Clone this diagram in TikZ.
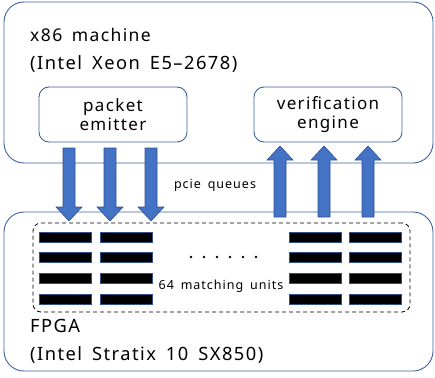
\documentclass[tikz,border=0pt]{standalone}
\usepackage{fontspec}
\setmainfont{Noto Sans}[LetterSpace=8, WordSpace=1.6]
\usetikzlibrary{positioning}

\definecolor{boxblue}{HTML}{3A62A0}
\definecolor{arrowblue}{HTML}{4472C4}
\definecolor{arrowedge}{HTML}{2F528F}

\tikzset{
  machinebox/.style={draw=boxblue, line width=0.9pt, rounded corners=20pt},
  modulebox/.style={draw=boxblue, line width=0.9pt, rounded corners=10pt,
    minimum width=148pt, minimum height=55pt, align=center,
    font=\fontsize{17}{19}\selectfont},
  labeltext/.style={inner sep=0pt, anchor=base west, font=\fontsize{17.5}{20}\selectfont},
  labelbig/.style={inner sep=0pt, anchor=base west, font=\fontsize{18.3}{22}\selectfont},
  smalltext/.style={inner sep=0pt, font=\fontsize{12.5}{15}\selectfont},
  pciearrow/.style={fill=arrowblue, draw=arrowedge, line width=0.6pt},
  unitbar/.style={fill=black, draw=arrowedge, line width=0.8pt},
  unitframe/.style={draw, dashed, line width=0.8pt, rounded corners=8pt, dash pattern=on 4pt off 3pt}
}

\begin{document}
\begin{tikzpicture}[x=1pt, y=-1pt]
\useasboundingbox (0,0) rectangle (435,377);

% host side
\node[machinebox, minimum width=429pt, minimum height=161pt] (host) at (218.5,82.5) {};
\node[labeltext] (hostname) at (30,42) {x86 machine};
\node[labelbig] (hostcpu) at (30,70) {(Intel Xeon E5–2678)};
\node[modulebox] (emitter) at (113,114.5) {packet\\emitter};
\node[modulebox] (verifier) at (328,114.5) {verification\\engine};

% fpga side
\node[machinebox, minimum width=429pt, minimum height=159pt] (fpga) at (218.5,291.5) {};
\node[unitframe, minimum width=377pt, minimum height=89pt] (units) at (221.5,267.5) {};
\node[labelbig] (fpganame) at (30,332) {FPGA};
\node[labelbig] (fpgachip) at (30,360) {(Intel Stratix 10 SX850)};

% matching units
\foreach \cx in {65,126,315.5,375.5}
  \foreach \cy in {237,257.5,278.5,299}
    \draw[unitbar] (\cx-26,\cy-5) rectangle (\cx+26,\cy+5);
\foreach \dx in {191,204,217,230,243,256}
  \fill (\dx,257) circle (1.3pt);
\node[smalltext] (unitcount) at (221,286) {64 matching units};

% pcie queues
\foreach \cx in {69,110,151}
  \draw[pciearrow] (\cx-6,148) -- (\cx+6,148) -- (\cx+6,207) -- (\cx+13,207)
    -- (\cx,221) -- (\cx-13,207) -- (\cx-6,207) -- cycle;
\foreach \cx in {280,324,368}
  \draw[pciearrow] (\cx-6,217) -- (\cx+6,217) -- (\cx+6,160) -- (\cx+13,160)
    -- (\cx,146) -- (\cx-13,160) -- (\cx-6,160) -- cycle;
\node[smalltext] (queues) at (215,185) {pcie queues};

\end{tikzpicture}
\end{document}
